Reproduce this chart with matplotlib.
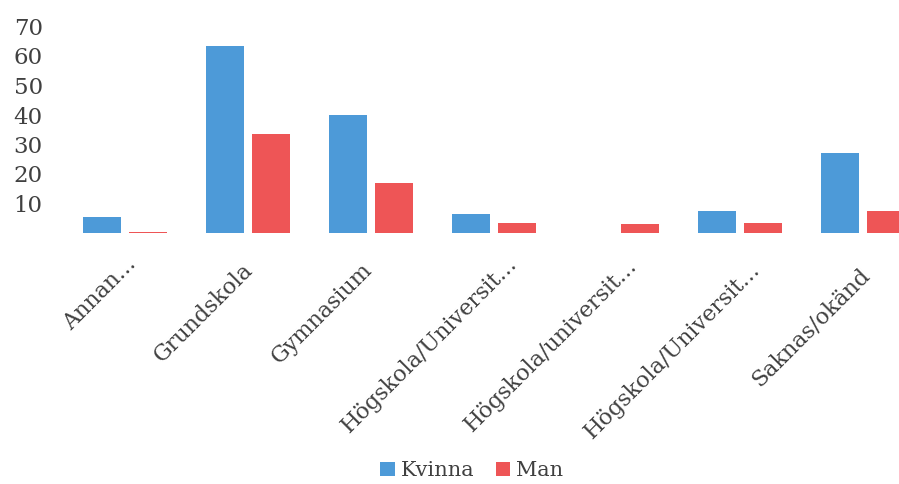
import numpy as np
import matplotlib

matplotlib.use("Agg")
import matplotlib.pyplot as plt  # noqa: E402
from matplotlib.transforms import ScaledTranslation  # noqa: E402

categories = ["Annan...", "Grundskola", "Gymnasium", "Högskola/Universit...",
              "Högskola/universit...", "Högskola/Universit...", "Saknas/okänd"]
kvinna = [5.5, 63.5, 40, 6.5, 0, 7.5, 27]
man = [0.5, 33.5, 17, 3.5, 3, 3.5, 7.5]
yticks = [10, 20, 30, 40, 50, 60, 70]

BLUE = "#4d9ad8"
RED = "#ee5556"
TEXT = "#404040"

plt.rcParams["font.family"] = ["DejaVu Serif"]

fig = plt.figure(figsize=(8.99, 4.84), dpi=100)
ax = fig.add_axes([63.5 / 899, 251 / 484, 835.5 / 899, 206.5 / 484])

x = np.arange(len(categories))
w = 0.31
ax.bar(x - 0.19, kvinna, w, color=BLUE, label="Kvinna")
ax.bar(x + 0.19, man, w, color=RED, label="Man")

ax.set_xlim(-0.5, -0.5 + 835.5 / 123)
ax.set_ylim(0, 70)
ax.set_yticks(yticks)
ax.set_xticks(x)
ax.set_xticklabels(categories)
for spine in ax.spines.values():
    spine.set_visible(False)
ax.tick_params(axis="y", length=0, pad=15, labelsize=16.5, labelcolor=TEXT)
ax.tick_params(axis="x", length=0, pad=24, labelsize=16, labelcolor=TEXT)
plt.setp(ax.get_xticklabels(), rotation=45, ha="right", va="center",
         rotation_mode="anchor")

# the long (truncated) labels sit a little right of their group in the original
shifts = [(8, 6), (2, 0), (-2, 0), (20, 6), (17, 4), (17, 0), (3, -5)]
for lab, (dx, dy) in zip(ax.get_xticklabels(), shifts):
    lab.set_transform(lab.get_transform()
                      + ScaledTranslation(dx / 100, dy / 100, fig.dpi_scale_trans))

fig.legend(loc="center", bbox_to_anchor=(0.525, 0.027), ncol=2, frameon=False,
           handlelength=0.7, handleheight=0.7, handletextpad=0.3,
           columnspacing=1.0, fontsize=15, labelcolor=TEXT)

fig.savefig("out.png", dpi=100)
